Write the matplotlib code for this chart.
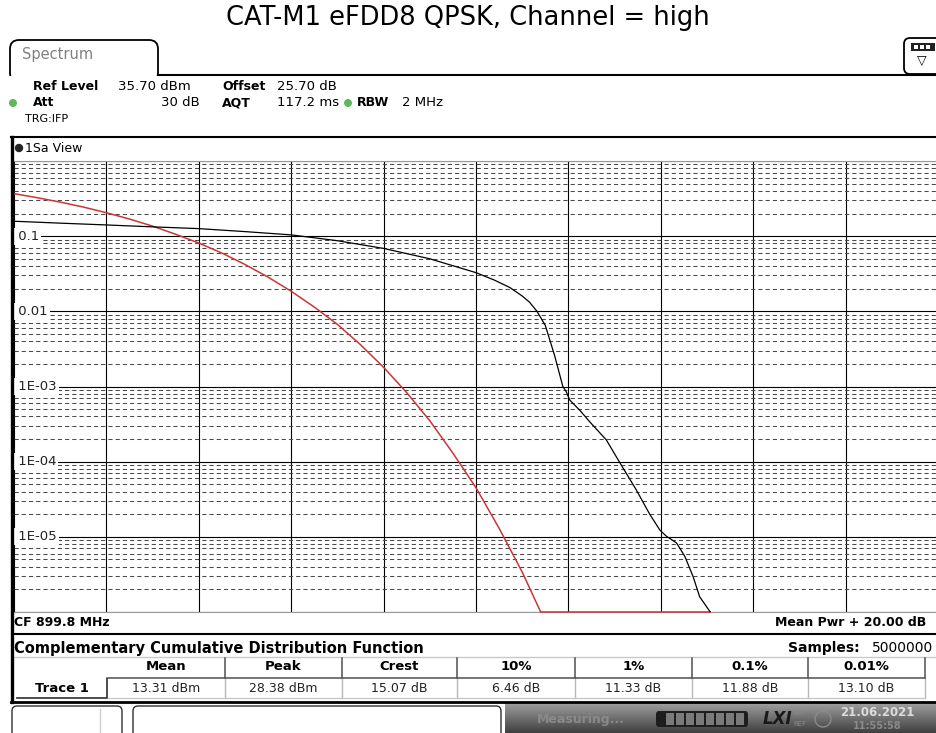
import numpy as np
import matplotlib
matplotlib.use('Agg')
import matplotlib.pyplot as plt
from matplotlib.patches import FancyBboxPatch, Rectangle, Circle
from matplotlib.lines import Line2D
from matplotlib.ticker import LogLocator, NullFormatter

plt.rcParams['lines.scale_dashes'] = False
plt.rcParams['font.family'] = ['DejaVu Sans']

# measured CCDF trace: level above mean power (dB) vs probability
trace_db = [0.0, 1.0, 2.0, 3.0, 4.0, 5.0, 6.0, 7.0, 8.0, 9.0, 10.0, 10.4, 10.73,
            11.0, 11.16, 11.32, 11.5, 11.7, 11.88, 11.95, 12.03, 12.25, 12.46,
            12.82, 13.10, 13.47, 13.76, 13.98, 14.12, 14.34, 14.52, 14.70, 14.84,
            15.07]
trace_prob = [0.158, 0.149, 0.141, 0.133, 0.126, 0.115, 0.104, 0.087, 0.0687, 0.050,
              0.0327, 0.026, 0.0208, 0.016, 0.0132, 0.010, 0.0065, 0.0026, 1.0e-3,
              8.6e-4, 6.6e-4, 4.8e-4, 3.4e-4, 1.95e-4, 1.0e-4, 4.2e-5, 2.0e-5,
              1.23e-5, 1.02e-5, 8.3e-6, 5.5e-6, 2.95e-6, 1.6e-6, 1.0e-6]

# gaussian reference trace
gauss_db = [0.0, 0.5, 1.0, 1.5, 2.0, 2.5, 3.0, 3.5, 4.0, 4.5, 5.0, 5.5, 6.0, 6.5,
            7.0, 7.5, 8.0, 8.5, 9.0, 9.5, 10.0, 10.5, 11.0, 11.4, 15.07]
gauss_prob = [0.368, 0.325, 0.284, 0.244, 0.205, 0.169, 0.136, 0.106, 0.081, 0.0596,
              0.042, 0.0285, 0.0185, 0.0114, 0.0067, 0.0036, 0.0018, 8.3e-4,
              3.5e-4, 1.3e-4, 4.5e-5, 1.3e-5, 3.4e-6, 1.0e-6, 1.0e-6]

title = 'CAT-M1 eFDD8 QPSK, Channel = high'
decade_values = [1e-1, 1e-2, 1e-3, 1e-4, 1e-5]
decade_labels = ['0.1', '0.01', '1E-03', '1E-04', '1E-05']

table_cols = ['Mean', 'Peak', 'Crest', '10%', '1%', '0.1%', '0.01%']
table_vals = ['13.31 dBm', '28.38 dBm', '15.07 dB', '6.46 dB', '11.33 dB',
              '11.88 dB', '13.10 dB']
col_edges = [225, 342, 457, 575, 692, 808, 925]

W, H = 936, 733
fig = plt.figure(figsize=(W / 100, H / 100), dpi=100)
fig.patch.set_facecolor('white')

# overlay in pixel coordinates for the instrument screen furniture
ov = fig.add_axes([0, 0, 1, 1], zorder=0)
ov.set_xlim(0, W)
ov.set_ylim(H, 0)
ov.axis('off')

ov.text(468, 18, title, ha='center', va='center', fontsize=18.5)

# Spectrum tab
ov.add_patch(FancyBboxPatch((10, 40), 148, 42, boxstyle='round,pad=0,rounding_size=9',
                            fc='white', ec='black', lw=1.3))
ov.add_patch(Rectangle((8, 75.5), 160, 8, fc='white', ec='none', zorder=2))
ov.plot([157.5, W], [74.5, 74.5], color='black', lw=1.5)
ov.text(22, 55, 'Spectrum', fontsize=10.5, color='#808080', va='center')

# menu icon top right
ov.add_patch(FancyBboxPatch((904, 38), 40, 36, boxstyle='round,pad=0,rounding_size=6',
                            fc='white', ec='black', lw=1.3))
ov.add_patch(Rectangle((911, 43), 24, 8, fc='#222222', ec='none'))
for xs in (914, 920, 926):
    ov.add_patch(Rectangle((xs, 45), 4, 4, fc='white', ec='none'))
ov.text(922, 61, '\u25bd', fontsize=9, ha='center', va='center')

# header settings
hdr = dict(fontsize=9.5, va='center')
ov.text(33, 86, 'Ref Level', fontweight='bold', fontsize=9, va='center')
ov.text(118, 86, '35.70 dBm', **hdr)
ov.text(222, 86, 'Offset', fontweight='bold', fontsize=9, va='center')
ov.text(277, 86, '25.70 dB', **hdr)
ov.add_patch(Circle((13, 103), 4, fc='#5cb85c', ec='none', zorder=3))
ov.text(33, 103, 'Att', fontweight='bold', fontsize=9, va='center')
ov.text(200, 103, '30 dB', ha='right', **hdr)
ov.text(222, 103, 'AQT', fontweight='bold', fontsize=9, va='center')
ov.text(277, 103, '117.2 ms', **hdr)
ov.add_patch(Circle((348, 103), 4, fc='#5cb85c', ec='none'))
ov.text(357, 103, 'RBW', fontweight='bold', fontsize=9, va='center')
ov.text(402, 103, '2 MHz', **hdr)
ov.text(25, 119, 'TRG:IFP', fontsize=8, va='center')

# window frame; the thick left edge goes on top of everything
fig.add_artist(Line2D([11.5 / W, 11.5 / W], [1 - 137 / H, 1 - 702 / H],
                      color='black', lw=2.4, zorder=10))
ov.plot([11, W], [137, 137], color='black', lw=1.5)
ov.add_patch(Circle((19, 148), 4.2, fc='#222222', ec='none'))
ov.text(25, 148, '1Sa View', fontsize=9, va='center')

ov.text(14, 623, 'CF 899.8 MHz', fontsize=9, fontweight='bold', va='center')
ov.text(926, 623, 'Mean Pwr + 20.00 dB', fontsize=9, fontweight='bold',
        ha='right', va='center')
ov.plot([12, W], [633.5, 633.5], color='black', lw=1.5)

# result table
ov.text(14, 648, 'Complementary Cumulative Distribution Function', fontsize=10.5,
        fontweight='bold', va='center')
ov.text(860, 648, 'Samples:', fontsize=10, fontweight='bold', ha='right', va='center')
ov.text(872, 648, '5000000', fontsize=10, va='center')
ov.plot([13, W], [656.5, 656.5], color='#c8c8c8', lw=1)
centers = [(a + b) / 2 for a, b in zip([108] + col_edges[:-1], col_edges)]
for cx, name, val in zip(centers, table_cols, table_vals):
    ov.text(cx, 667, name, fontsize=9.5, fontweight='bold', ha='center', va='center')
    ov.text(cx, 688, val, fontsize=9, ha='center', va='center', color='#222222')
for ex in col_edges:
    ov.plot([ex, ex], [658, 678], color='#505050', lw=1.1)
    ov.plot([ex, ex], [678, 698], color='#b8b8b8', lw=1)
ov.plot([107, 925], [678, 678], color='#505050', lw=1.1)
ov.plot([107, 925], [698, 698], color='#c8c8c8', lw=1)
ov.plot([17, 107, 107], [698, 698, 679], color='#404040', lw=1.3)
ov.text(62, 688, 'Trace 1', fontsize=9.5, fontweight='bold', ha='center', va='center')
ov.plot([11, W], [701.5, 701.5], color='black', lw=2)

# status bar
grad = np.linspace(0.62, 0.25, 30).reshape(-1, 1)
ov.imshow(grad, cmap='gray', vmin=0, vmax=1, aspect='auto',
          extent=(505, W, H, 703), zorder=1)
ov.add_patch(FancyBboxPatch((12, 706), 110, 34, boxstyle='round,pad=0,rounding_size=5',
                            fc='white', ec='#303030', lw=1))
ov.plot([100, 100], [709, 733], color='#d0d0d0', lw=1)
ov.add_patch(FancyBboxPatch((133, 706), 368, 34, boxstyle='round,pad=0,rounding_size=5',
                            fc='white', ec='#303030', lw=1))
ov.text(537, 719, 'Measuring...', fontsize=9, fontweight='bold', color='#8a8a8a',
        va='center', zorder=3)
ov.add_patch(FancyBboxPatch((656, 711), 92, 16, boxstyle='round,pad=0,rounding_size=3',
                            fc='#1e1e1e', ec='none', zorder=3))
for sx in range(666, 742, 10):
    ov.add_patch(Rectangle((sx, 713), 8, 12, fc='#7a7a7a', ec='none', zorder=4))
ov.text(763, 719, 'LXI', fontsize=12, fontweight='bold', style='italic',
        color='#1a1a1a', va='center', zorder=3)
ov.text(793, 713, 'EXT', fontsize=5, color='#8a8a8a', va='center', zorder=3)
ov.text(793, 724, 'REF', fontsize=5, color='#8a8a8a', va='center', zorder=3)
ov.add_patch(Circle((823, 719), 8, fc='none', ec='#8a8a8a', lw=1, zorder=3))
ov.text(840, 712, '21.06.2021', fontsize=8.5, fontweight='bold', color='#dcdcdc',
        va='center', zorder=3)
ov.text(853, 726, '11:55:58', fontsize=7, fontweight='bold', color='#8a8a8a',
        va='center', zorder=3)

# CCDF diagram
ax = fig.add_axes([14 / W, 1 - 612 / H, 924 / W, 451 / H], zorder=2)
ax.set_xlim(0, 20)
ax.set_yscale('log')
ax.set_ylim(1e-6, 1)
ax.set_xticks(np.arange(0, 21, 2))
ax.yaxis.set_major_locator(LogLocator(base=10, numticks=10))
ax.yaxis.set_minor_locator(LogLocator(base=10, subs=np.arange(2, 10), numticks=20))
ax.yaxis.set_minor_formatter(NullFormatter())
ax.tick_params(which='both', length=0, labelbottom=False, labelleft=False)
ax.grid(which='major', axis='x', color='black', lw=0.8)
ax.grid(which='major', axis='y', color='black', lw=0.8)
ax.grid(which='minor', axis='y', color='#4a4a4a', lw=0.75, ls=(0, (3.0, 2.2)))
ax.set_axisbelow(True)
for side in ('left', 'right'):
    ax.spines[side].set_visible(False)
ax.spines['top'].set_color('#9a9a9a')
ax.spines['bottom'].set_color('#9a9a9a')
ax.spines['top'].set_linewidth(0.8)
ax.spines['bottom'].set_linewidth(0.8)

# decade labels sit on a white patch from the left edge
for val, lab in zip(decade_values, decade_labels):
    ax.text(0.0, val, ' ' + lab, fontsize=9.5, va='center', ha='left', color='#222222',
            bbox=dict(boxstyle='square,pad=0.15', fc='white', ec='none'), zorder=3)

ax.plot(gauss_db, gauss_prob, color='#cc3535', lw=1.1, zorder=4, clip_on=False)
ax.plot(trace_db, trace_prob, color='black', lw=0.9, zorder=5)

fig.savefig('out.png', dpi=100)
